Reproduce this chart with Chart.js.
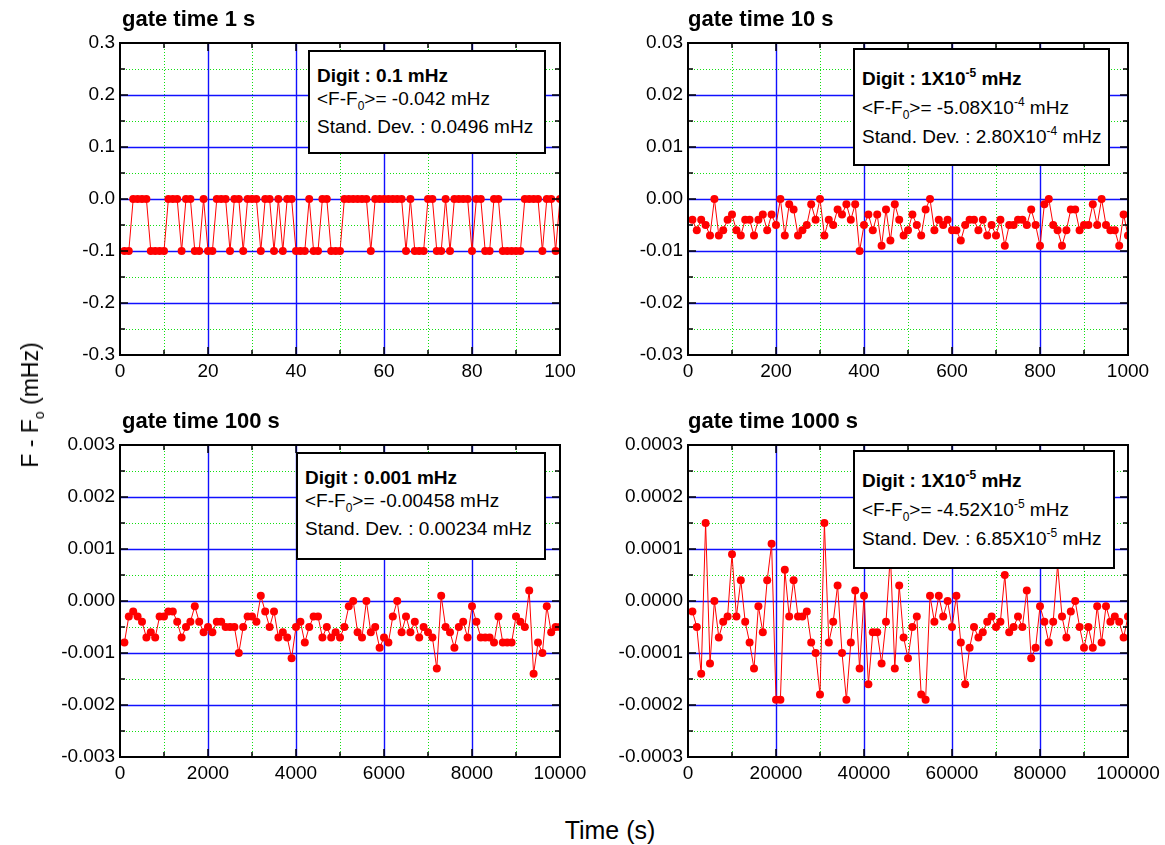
<!DOCTYPE html>
<html lang="en">
<head>
<meta charset="UTF-8">
<title>gate time</title>
<script src="https://cdn.jsdelivr.net/npm/chart.js@4.4.1/dist/chart.umd.min.js"></script>
<style>
  body { margin: 0; background: #fff; font-family: "Liberation Sans", Arial, sans-serif; color: #000; }
  #wrap { position: relative; width: 1165px; height: 845px; overflow: hidden; }
  canvas { position: absolute; }
  .ttl { position: absolute; font-weight: bold; font-size: 22px; line-height: 22px; white-space: nowrap; }
  .box { position: absolute; border: 2px solid #000; background: #fff; box-sizing: border-box; }
  .ln { position: absolute; font-size: 19px; line-height: 22px; white-space: nowrap; }
  .ln.b { font-weight: bold; }
  sup { font-size: 12px; vertical-align: 8px; line-height: 0; }
  sub { font-size: 12px; vertical-align: -5px; line-height: 0; }
  .axt { position: absolute; font-size: 23px; line-height: 26px; white-space: nowrap; }
  .axt sub { font-size: 14px; vertical-align: -6px; }
</style>
</head>
<body>
<div id="wrap">
  <canvas id="c1" width="597" height="400" style="left:0;top:0"></canvas>
  <canvas id="c2" width="597" height="400" style="left:568px;top:0"></canvas>
  <canvas id="c3" width="597" height="400" style="left:0;top:400px"></canvas>
  <canvas id="c4" width="597" height="400" style="left:568px;top:400px"></canvas>

  <div class="ttl" style="left:122px;top:8px">gate time 1 s</div>
  <div class="ttl" style="left:688px;top:8px">gate time 10 s</div>
  <div class="ttl" style="left:122px;top:410px">gate time 100 s</div>
  <div class="ttl" style="left:688px;top:410px">gate time 1000 s</div>

  <div class="box" style="left:308px;top:50px;width:238px;height:104px"></div>
  <div class="ln b" style="left:317px;top:65px">Digit : 0.1 mHz</div>
  <div class="ln" style="left:317px;top:88px">&lt;F-F<sub>0</sub>&gt;= -0.042 mHz</div>
  <div class="ln" style="left:317px;top:116px">Stand. Dev. : 0.0496 mHz</div>

  <div class="box" style="left:853px;top:48px;width:257px;height:118px"></div>
  <div class="ln b" style="left:862px;top:68px">Digit : 1X10<sup>-5</sup> mHz</div>
  <div class="ln" style="left:862px;top:97px">&lt;F-F<sub>0</sub>&gt;= -5.08X10<sup>-4</sup> mHz</div>
  <div class="ln" style="left:862px;top:126px">Stand. Dev. : 2.80X10<sup>-4</sup> mHz</div>

  <div class="box" style="left:296px;top:452px;width:250px;height:108px"></div>
  <div class="ln b" style="left:305px;top:467px">Digit : 0.001 mHz</div>
  <div class="ln" style="left:305px;top:490px">&lt;F-F<sub>0</sub>&gt;= -0.00458 mHz</div>
  <div class="ln" style="left:305px;top:518px">Stand. Dev. : 0.00234 mHz</div>

  <div class="box" style="left:853px;top:450px;width:262px;height:119px"></div>
  <div class="ln b" style="left:862px;top:470px">Digit : 1X10<sup>-5</sup> mHz</div>
  <div class="ln" style="left:862px;top:499px">&lt;F-F<sub>0</sub>&gt;= -4.52X10<sup>-5</sup> mHz</div>
  <div class="ln" style="left:862px;top:528px">Stand. Dev. : 6.85X10<sup>-5</sup> mHz</div>

  <div class="axt" style="left:30px;top:405px;transform:translate(-50%,-50%) rotate(-90deg)">F - F<sub>o</sub> (mHz)</div>
  <div class="axt" style="left:610px;top:830px;font-size:25px;transform:translate(-50%,-50%)">Time (s)</div>
</div>
<script>
  // sample spacing (s) of each run, 100 samples each
  const gateTimes = [1, 10, 100, 1000];
  const nSamples = 100;

  // F - F0 in mHz
  const dev1s = [
    -0.1, -0.1, 0, 0, 0, 0, -0.1, -0.1, -0.1, -0.1,
    0, 0, 0, -0.1, 0, 0, -0.1, -0.1, 0, -0.1,
    -0.1, 0, 0, 0, -0.1, 0, 0, -0.1, 0, 0,
    0, -0.1, 0, 0, -0.1, 0, -0.1, 0, 0, -0.1,
    -0.1, -0.1, 0, -0.1, -0.1, 0, 0, -0.1, -0.1, -0.1,
    0, 0, 0, 0, 0, 0, -0.1, 0, 0, 0,
    0, 0, 0, 0, -0.1, 0, -0.1, -0.1, -0.1, 0,
    0, -0.1, -0.1, 0, -0.1, 0, 0, 0, 0, -0.1,
    0, 0, -0.1, -0.1, 0, 0, -0.1, -0.1, -0.1, -0.1,
    -0.1, 0, 0, 0, 0, -0.1, 0, 0, -0.1, 0
  ];
  const dev10s = [
    -0.004, -0.006, -0.004, -0.005, -0.007, 0, -0.007, -0.006, -0.004, -0.003,
    -0.006, -0.007, -0.004, -0.004, -0.007, -0.004, -0.003, -0.006, -0.003, -0.005,
    0, -0.007, -0.001, -0.002, -0.007, -0.006, -0.005, -0.001, -0.004, 0,
    -0.007, -0.004, -0.005, -0.002, -0.003, -0.001, -0.004, -0.001, -0.010, -0.005,
    -0.003, -0.006, -0.003, -0.009, -0.002, -0.008, -0.001, -0.004, -0.007, -0.006,
    -0.003, -0.005, -0.007, -0.002, 0, -0.006, -0.004, -0.005, -0.004, -0.006,
    -0.006, -0.008, -0.005, -0.004, -0.004, -0.006, -0.004, -0.007, -0.005, -0.007,
    -0.004, -0.009, -0.005, -0.005, -0.004, -0.004, -0.005, -0.002, -0.005, -0.009,
    -0.001, 0, -0.005, -0.006, -0.009, -0.006, -0.002, -0.002, -0.006, -0.005,
    -0.005, -0.001, -0.005, 0, -0.005, -0.006, -0.006, -0.009, -0.003, -0.007
  ];
  const dev100s = [
    -0.0008, -0.0003, -0.0002, -0.0003, -0.0004, -0.0007, -0.0006, -0.0007, -0.0003, -0.0003,
    -0.0002, -0.0002, -0.0004, -0.0007, -0.0005, -0.0004, -0.0001, -0.0004, -0.0006, -0.0005,
    -0.0006, -0.0004, -0.0004, -0.0005, -0.0005, -0.0005, -0.0010, -0.0005, -0.0003, -0.0003,
    -0.0004, 0.0001, -0.0002, -0.0005, -0.0002, -0.0007, -0.0006, -0.0007, -0.0011, -0.0005,
    -0.0004, -0.0008, -0.0005, -0.0003, -0.0003, -0.0007, -0.0005, -0.0007, -0.0006, -0.0007,
    -0.0005, -0.0001, 0, -0.0006, -0.0007, 0, -0.0006, -0.0005, -0.0009, -0.0007,
    -0.0008, -0.0003, 0, -0.0006, -0.0003, -0.0006, -0.0004, -0.0007, -0.0005, -0.0006,
    -0.0007, -0.0013, 0.0001, -0.0005, -0.0006, -0.0009, -0.0005, -0.0004, -0.0007, -0.0001,
    -0.0004, -0.0007, -0.0007, -0.0007, -0.0008, -0.0003, -0.0008, -0.0008, -0.0008, -0.0003,
    -0.0004, -0.0005, 0.0002, -0.0014, -0.0008, -0.0010, -0.0001, -0.0006, -0.0005, -0.0005
  ];
  const dev1000s = [
    -0.00002, -0.00005, -0.00014, 0.00015, -0.00012, 0, -0.00007, -0.00004, -0.00003, 0.00009,
    -0.00003, 0.00004, -0.00004, -0.00008, -0.00013, -0.00001, -0.00006, 0.00004, 0.00011, -0.00019,
    -0.00019, 0.00006, -0.00003, 0.00004, -0.00003, -0.00003, -0.00002, -0.00008, -0.00010, -0.00018,
    0.00015, -0.00008, -0.00004, 0.00003, -0.00010, -0.00019, -0.00008, 0.00002, -0.00013, 0.00001,
    -0.00016, -0.00006, -0.00006, -0.00012, -0.00004, 0.00009, -0.00013, 0.00003, -0.00007, -0.00011,
    -0.00005, -0.00003, -0.00018, -0.00019, 0.00001, -0.00004, 0.00001, -0.00003, 0, -0.00005,
    0.00001, -0.00008, -0.00016, -0.00009, -0.00005, -0.00007, -0.00006, -0.00004, -0.00003, -0.00005,
    -0.00004, 0.00005, -0.00006, -0.00005, -0.00003, -0.00005, 0.00002, -0.00011, -0.00009, -0.00001,
    -0.00004, -0.00008, -0.00004, 0.00007, -0.00003, -0.00007, -0.00002, 0, -0.00005, -0.00009,
    -0.00005, -0.00009, -0.00001, -0.00008, -0.00001, -0.00004, -0.00003, -0.00004, -0.00007, -0.00003
  ];

  // axis settings per panel
  const xMaxes = [100, 1000, 10000, 100000];
  const xSteps = [20, 200, 2000, 20000];
  const yMaxes = [0.3, 0.03, 0.003, 0.0003];
  const yDecimals = [1, 2, 3, 4];

  const series = [dev1s, dev10s, dev100s, dev1000s];
  const canvasIds = ['c1', 'c2', 'c3', 'c4'];
  const topPad = [43, 43, 45, 45];

  // Origin-style frame: dotted green minor grid, blue major grid, inward ticks on all sides
  const originFrame = {
    id: 'originFrame',
    beforeDatasetsDraw(chart) {
      const { ctx, chartArea: a } = chart;
      const sx = chart.scales.x, sy = chart.scales.y;
      const xAt = k => Math.round(sx.getPixelForValue(sx.min + k * (sx.max - sx.min) / 10)) + 0.5;
      const yAt = k => Math.round(sy.getPixelForValue(sy.min + k * (sy.max - sy.min) / 12)) + 0.5;
      ctx.save();

      // minor grid, dotted green
      ctx.lineWidth = 1;
      ctx.strokeStyle = '#11e011';
      ctx.setLineDash([1, 2]);
      ctx.beginPath();
      for (let k = 1; k < 10; k += 2) { ctx.moveTo(xAt(k), a.top); ctx.lineTo(xAt(k), a.bottom); }
      for (let k = 1; k < 12; k += 2) { ctx.moveTo(a.left, yAt(k)); ctx.lineTo(a.right, yAt(k)); }
      ctx.stroke();

      // major grid, solid blue
      ctx.setLineDash([]);
      ctx.lineWidth = 1.4;
      ctx.strokeStyle = '#1010ff';
      ctx.beginPath();
      for (let k = 2; k < 10; k += 2) { ctx.moveTo(xAt(k), a.top); ctx.lineTo(xAt(k), a.bottom); }
      for (let k = 2; k < 12; k += 2) { ctx.moveTo(a.left, yAt(k)); ctx.lineTo(a.right, yAt(k)); }
      ctx.stroke();
      ctx.restore();
    },
    afterDatasetsDraw(chart) {
      const { ctx, chartArea: a } = chart;
      const sx = chart.scales.x, sy = chart.scales.y;
      ctx.save();
      ctx.strokeStyle = '#000';
      ctx.lineWidth = 1.5;
      ctx.beginPath();
      for (let k = 1; k < 10; k++) {
        const len = k % 2 ? 5 : 8;
        const px = sx.getPixelForValue(sx.min + k * (sx.max - sx.min) / 10);
        ctx.moveTo(px, a.bottom); ctx.lineTo(px, a.bottom - len);
        ctx.moveTo(px, a.top); ctx.lineTo(px, a.top + len);
      }
      for (let k = 1; k < 12; k++) {
        const len = k % 2 ? 5 : 8;
        const py = sy.getPixelForValue(sy.min + k * (sy.max - sy.min) / 12);
        ctx.moveTo(a.left, py); ctx.lineTo(a.left + len, py);
        ctx.moveTo(a.right, py); ctx.lineTo(a.right - len, py);
      }
      ctx.stroke();
      ctx.lineWidth = 2;
      ctx.strokeRect(a.left, a.top, a.right - a.left, a.bottom - a.top);
      ctx.restore();
    }
  };

  const tickFont = { family: '"Liberation Sans", Arial, sans-serif', size: 19 };

  series.forEach((vals, p) => {
    const times = [];
    for (let i = 1; i <= nSamples; i++) times.push(i * gateTimes[p]);
    const xh = 400 - topPad[p] - 312;
    new Chart(document.getElementById(canvasIds[p]), {
      type: 'line',
      data: {
        labels: times,
        datasets: [{
          data: vals,
          borderColor: '#ff0000',
          borderWidth: 1,
          pointRadius: 4,
          pointBackgroundColor: '#ff0000',
          pointBorderWidth: 0,
          tension: 0
        }]
      },
      options: {
        responsive: false,
        animation: false,
        devicePixelRatio: 1,
        layout: { padding: { top: topPad[p], right: 37, bottom: 0, left: 0 } },
        plugins: { legend: { display: false }, tooltip: { enabled: false } },
        scales: {
          x: {
            type: 'linear', min: 0, max: xMaxes[p],
            grid: { display: false, drawTicks: false },
            border: { display: false },
            ticks: {
              stepSize: xSteps[p], autoSkip: false, maxRotation: 0, padding: 5,
              color: '#000', font: tickFont,
              callback: v => String(v)
            },
            afterFit(s) { s.height = xh; }
          },
          y: {
            min: -yMaxes[p], max: yMaxes[p],
            grid: { display: false, drawTicks: false },
            border: { display: false },
            ticks: {
              stepSize: yMaxes[p] / 3, padding: 5,
              color: '#000', font: tickFont,
              callback: v => (Math.abs(v) < yMaxes[p] / 1000 ? 0 : v).toFixed(yDecimals[p])
            },
            afterFit(s) { s.width = 120; }
          }
        }
      },
      plugins: [originFrame]
    });
  });
</script>
</body>
</html>
